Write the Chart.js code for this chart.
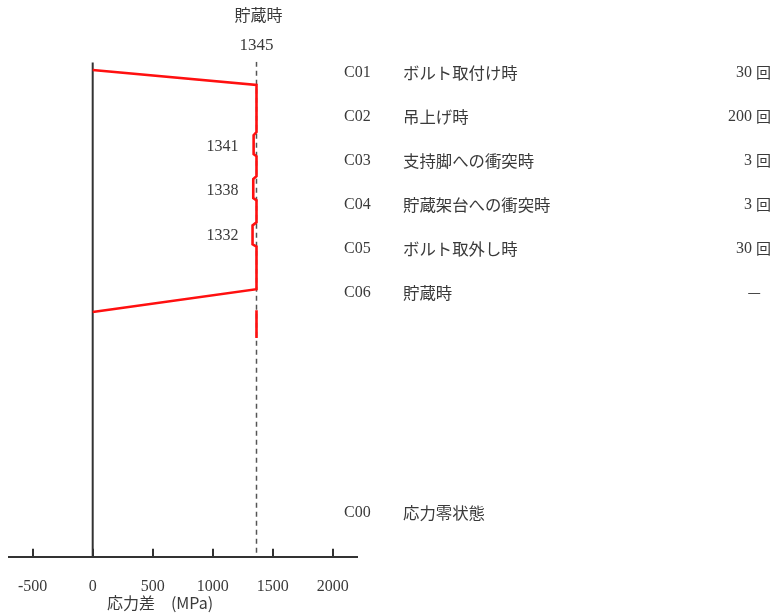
<!DOCTYPE html>
<html>
<head>
<meta charset="utf-8">
<script src="https://cdn.jsdelivr.net/npm/chart.js@4/dist/chart.umd.min.js"></script>
<style>
  html, body { margin: 0; padding: 0; background: #fff; }
  #wrap { width: 774px; height: 615px; position: relative; }
</style>
</head>
<body>
<div id="wrap"><canvas id="c" width="774" height="615"></canvas></div>
<script>
// ---- data ----
const codes = ['C01', 'C02', 'C03', 'C04', 'C05', 'C06', 'C00'];
const events = ['ボルト取付け時', '吊上げ時', '支持脚への衝突時', '貯蔵架台への衝突時', 'ボルト取外し時', '貯蔵時', '応力零状態'];
const counts = ['30 回', '200 回', '3 回', '3 回', '30 回', '—', ''];
const rowSteps = [1, 2, 3, 4, 5, 6, 11];

const xTicks = [-500, 0, 500, 1000, 1500, 2000];

// stress path (stress difference, MPa) vs. step position
const pathStress = [0, 1365, 1365, 1341, 1341, 1365, 1365, 1338, 1338, 1365, 1365, 1332, 1332, 1365, 1365, 0];
const pathStep   = [0.94, 1.28, 2.35, 2.42, 2.85, 2.90, 3.35, 3.42, 3.85, 3.90, 4.40, 4.47, 4.90, 4.95, 5.92, 6.44];

const storageStress = [1365, 1365];
const storageStep = [6.40, 7.03];

const storageLevel = 1365;
const storageLabel = '1345';
const storageTitle = '貯蔵時';
const notchLabels = ['1341', '1338', '1332'];
const notchLabelSteps = [2.69, 3.69, 4.70];
const axisTitle = '応力差　(MPa)';

const stepTop = 0.77, stepBottom = 12;

const toPts = (xs, ys) => xs.map((x, i) => ({ x: x, y: ys[i] }));

const serif = '"Liberation Serif", "DejaVu Serif", serif';
const jp = '"Noto Sans CJK JP", sans-serif';
const txt = '#3a3a3a';

const textPlugin = {
  id: 'texts',
  afterDraw(chart) {
    const ctx = chart.ctx;
    const xs = chart.scales.x, ys = chart.scales.y;
    ctx.save();
    ctx.fillStyle = txt;
    ctx.textBaseline = 'middle';
    // top labels
    const sx = xs.getPixelForValue(storageLevel);
    ctx.textAlign = 'center';
    ctx.font = '16px ' + jp;
    ctx.fillText(storageTitle, sx + 2, 15);
    ctx.font = '17px ' + serif;
    ctx.fillText(storageLabel, sx, 46);
    // notch labels
    ctx.textAlign = 'right';
    ctx.font = '16px ' + serif;
    notchLabels.forEach((l, i) => {
      ctx.fillText(l, sx - 18, ys.getPixelForValue(notchLabelSteps[i]));
    });
    // legend rows
    rowSteps.forEach((s, i) => {
      const y = ys.getPixelForValue(s);
      ctx.textAlign = 'left';
      ctx.font = '16px ' + serif;
      ctx.fillText(codes[i], 344, y);
      ctx.font = '16.4px ' + jp;
      ctx.fillText(events[i], 403, y);
      ctx.textAlign = 'right';
      if (counts[i] === '—') {
        ctx.font = '15px ' + jp;
        ctx.fillText('—', 761, y);
      } else if (counts[i]) {
        const parts = counts[i].split(' ');
        ctx.font = '15px ' + jp;
        const w = ctx.measureText(parts[1]).width;
        ctx.fillText(parts[1], 771, y);
        ctx.font = '16px ' + serif;
        ctx.fillText(parts[0], 771 - w - 4, y);
      }
    });
    // axis title
    ctx.textAlign = 'center';
    ctx.font = '16px ' + jp;
    ctx.fillText(axisTitle, 160, 603);
    ctx.restore();
  }
};

new Chart(document.getElementById('c'), {
  type: 'scatter',
  data: {
    datasets: [
      {
        label: 'dash',
        data: toPts([storageLevel, storageLevel], [stepTop - 0.02, stepBottom]),
        showLine: true, borderColor: '#555', borderWidth: 1.5, borderDash: [5, 4],
        pointRadius: 0, order: 3
      },
      {
        label: 'axis0',
        data: toPts([0, 0], [stepTop, stepBottom]),
        showLine: true, borderColor: '#333', borderWidth: 2,
        pointRadius: 0, order: 2
      },
      {
        label: 'path',
        data: toPts(pathStress, pathStep),
        showLine: true, borderColor: '#ff1010', borderWidth: 2.6,
        pointRadius: 0, tension: 0, order: 1
      },
      {
        label: 'storage',
        data: toPts(storageStress, storageStep),
        showLine: true, borderColor: '#ff1010', borderWidth: 2.6,
        pointRadius: 0, order: 1
      }
    ]
  },
  options: {
    responsive: false,
    animation: false,
    events: [],
    layout: { padding: { left: 8.7, right: 417.3, top: 61.7, bottom: 0 } },
    plugins: { legend: { display: false }, tooltip: { enabled: false } },
    scales: {
      x: {
        type: 'linear',
        min: -700, max: 2200,
        afterBuildTicks: (scale) => { scale.ticks = xTicks.map(v => ({ value: v })); },
        afterFit: (scale) => {
          scale.paddingLeft = 0; scale.paddingRight = 0;
          scale.height = 58.3;
        },
        border: { display: true, color: '#333', width: 2 },
        grid: { drawOnChartArea: false, drawTicks: true, tickLength: -8, color: '#333', lineWidth: 2 },
        ticks: {
          color: txt, padding: 28, maxRotation: 0, autoSkip: false,
          font: { family: serif, size: 16 },
          callback: (v) => String(v)
        }
      },
      y: {
        type: 'linear', display: false, reverse: true,
        min: stepTop - 0.02, max: stepBottom
      }
    }
  },
  plugins: [textPlugin]
});
</script>
</body>
</html>
